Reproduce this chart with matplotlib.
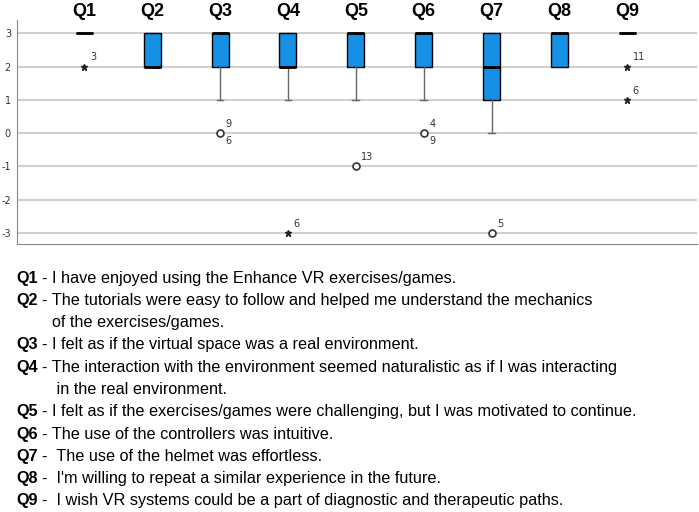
import matplotlib.pyplot as plt

plt.rcParams['axes.unicode_minus'] = False

questions = ['Q1', 'Q2', 'Q3', 'Q4', 'Q5', 'Q6', 'Q7', 'Q8', 'Q9']
box_low = [3, 2, 2, 2, 2, 2, 1, 2, 3]
box_med = [3, 2, 3, 2, 3, 3, 2, 3, 3]
box_high = [3, 3, 3, 3, 3, 3, 3, 3, 3]
whisk_low = [3, 2, 1, 1, 1, 1, 0, 2, 3]
whisk_high = [3, 3, 3, 3, 3, 3, 3, 3, 3]

# outliers (circles) and extremes (stars), with case numbers
circle_q = [3, 5, 6, 7]
circle_val = [0, -1, 0, -3]
circle_ids = [['9', '6'], ['13'], ['4', '9'], ['5']]
star_q = [1, 4, 9, 9]
star_val = [2, -3, 2, 1]
star_ids = [['3'], ['6'], ['11'], ['6']]

legend_lines = [
    ('Q1', '- I have enjoyed using the Enhance VR exercises/games.'),
    ('Q2', '- The tutorials were easy to follow and helped me understand the mechanics'),
    ('', 'of the exercises/games.'),
    ('Q3', '- I felt as if the virtual space was a real environment.'),
    ('Q4', '- The interaction with the environment seemed naturalistic as if I was interacting'),
    ('', ' in the real environment.'),
    ('Q5', '- I felt as if the exercises/games were challenging, but I was motivated to continue.'),
    ('Q6', '- The use of the controllers was intuitive.'),
    ('Q7', '-  The use of the helmet was effortless.'),
    ('Q8', '-  I\'m willing to repeat a similar experience in the future.'),
    ('Q9', '-  I wish VR systems could be a part of diagnostic and therapeutic paths.'),
]

body_font = 'Liberation Sans'

W, H = 699, 512
fig = plt.figure(figsize=(W / 100, H / 100), dpi=100)
ax_h = 224.3
ax = fig.add_axes([16.5 / W, (H - 244.3) / H, 680 / W, ax_h / H])

positions = list(range(1, len(questions) + 1))
stats = []
for i in range(len(questions)):
    stats.append({'med': box_med[i], 'q1': box_low[i], 'q3': box_high[i],
                  'whislo': whisk_low[i], 'whishi': whisk_high[i], 'fliers': []})

res = ax.bxp(stats, positions=positions, widths=0.25, capwidths=0.1,
             patch_artist=True, showfliers=False,
             boxprops=dict(facecolor='#1590e4', edgecolor='black', linewidth=1),
             medianprops=dict(color='black', linewidth=2),
             whiskerprops=dict(color='#666666', linewidth=1),
             capprops=dict(color='#666666', linewidth=1))

# hide caps on zero-length whiskers
for i in range(len(questions)):
    if whisk_low[i] == box_low[i]:
        res['caps'][2 * i].set_visible(False)
    if whisk_high[i] == box_high[i]:
        res['caps'][2 * i + 1].set_visible(False)

ax.plot(circle_q, circle_val, 'o', markersize=5, markerfacecolor='white',
        markeredgecolor='#333333', markeredgewidth=1.2, zorder=4)
ax.plot(star_q, star_val, '*', markersize=5, color='#222222', zorder=4)

def label_cases(xs, ys, ids):
    for x, y, lab in zip(xs, ys, ids):
        ax.annotate(lab[0], (x, y), xytext=(4, 3), textcoords='offset points',
                    fontsize=7, color='#333333', ha='left', va='bottom')
        if len(lab) > 1:
            ax.annotate(lab[1], (x, y), xytext=(4, -2), textcoords='offset points',
                        fontsize=7, color='#333333', ha='left', va='top')

label_cases(circle_q, circle_val, circle_ids)
label_cases(star_q, star_val, star_ids)

ax.set_xlim(0, 10.02)
ax.set_ylim(-3.34, 3.4)
ax.set_yticks(range(-3, 4))
ax.set_xticks([])
ax.yaxis.grid(True, color='#d0d0d0', linewidth=1.5)
ax.set_axisbelow(True)
ax.tick_params(axis='y', length=0, labelsize=7, labelcolor='#333333', pad=4)

# question headers above each box
for p, q in zip(positions, questions):
    ax.text(p, 1 + 8 / ax_h, q, transform=ax.get_xaxis_transform(),
            fontsize=13, fontweight='bold', family='Liberation Sans',
            ha='center', va='center')

for side in ['top', 'right']:
    ax.spines[side].set_visible(False)
ax.spines['left'].set_color('#888888')
ax.spines['bottom'].set_color('#888888')

# question list under the chart
y0 = 278
step = 22.3
for k, (tag, txt) in enumerate(legend_lines):
    ypx = y0 + k * step
    yf = (H - ypx) / H
    if tag:
        fig.text(16 / W, yf, tag, fontsize=11.7, fontweight='bold',
                 family=body_font, va='center', ha='left')
        fig.text(42 / W, yf, txt, fontsize=11.7, family=body_font, va='center', ha='left')
    else:
        fig.text(52 / W, yf, txt, fontsize=11.7, family=body_font, va='center', ha='left')

fig.savefig('out.png', dpi=100)
